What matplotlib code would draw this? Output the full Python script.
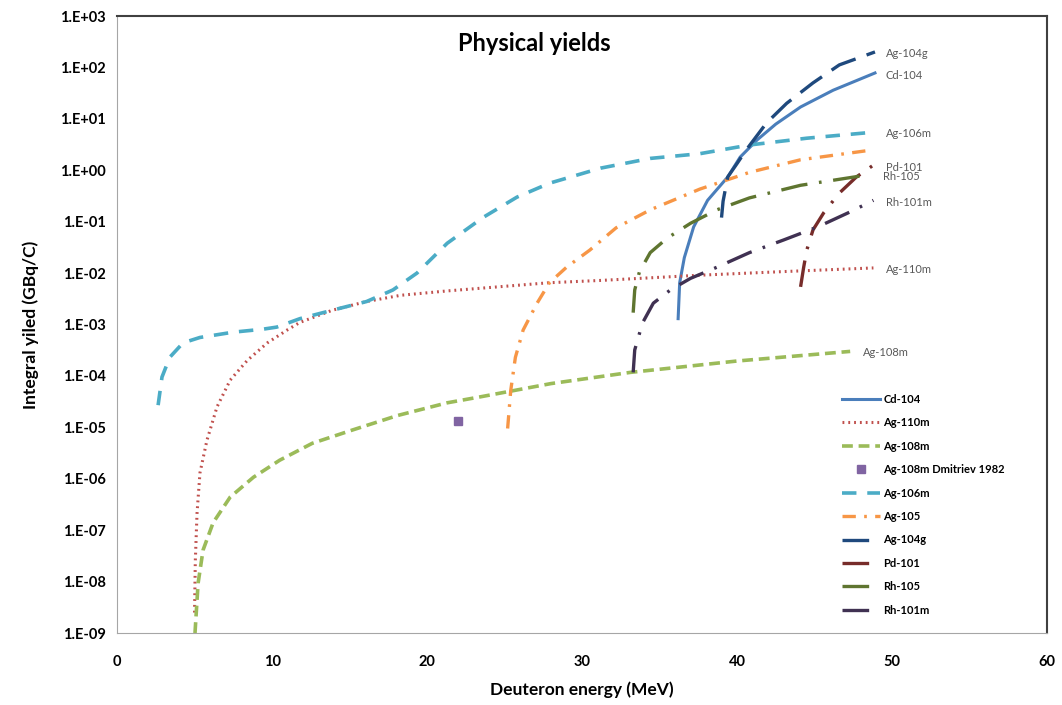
import numpy as np
import matplotlib
matplotlib.use("Agg")
import matplotlib.pyplot as plt

plt.rcParams['font.family'] = ['Lato', 'DejaVu Sans']

# Cd-104
e_cd104 = [36.2, 36.3, 36.6, 37.2, 38.1, 39.4, 40.2, 41.3, 42.5, 44.1, 46.2, 48.9]
y_cd104 = [1.3e-3, 6.5e-3, 2.0e-2, 7.9e-2, 0.26, 0.74, 1.8, 3.9, 7.9, 17, 36, 78]

# Ag-110m
e_ag110m = [5.0, 5.05, 5.16, 5.35, 5.8, 6.45, 7.3, 8.4, 9.7, 11.0, 11.8, 13.9, 16.1,
            18.3, 21.3, 27.9, 31.2, 37.6, 43.0, 48.8]
y_ag110m = [2.5e-9, 2.5e-8, 2.1e-7, 1.3e-6, 5.6e-6, 2.5e-5, 8.3e-5, 2.0e-4, 4.4e-4,
            7.9e-4, 1.1e-3, 1.9e-3, 2.8e-3, 3.7e-3, 4.5e-3, 6.5e-3, 7.2e-3, 9.1e-3,
            1.07e-2, 1.26e-2]

# Ag-108m
e_ag108m = [5.03, 5.23, 5.55, 6.2, 7.3, 8.8, 10.5, 12.6, 15.2, 18.1, 21.3, 23.4, 28.0,
            33.1, 40.0, 47.3]
y_ag108m = [1.0e-9, 9.3e-9, 4.1e-8, 1.4e-7, 4.4e-7, 1.07e-6, 2.3e-6, 4.9e-6, 8.9e-6,
            1.7e-5, 3.0e-5, 3.9e-5, 7.1e-5, 1.17e-4, 1.95e-4, 3.0e-4]

# Ag-108m Dmitriev 1982
e_dmitriev = [22.0]
y_dmitriev = [1.3e-5]

# Ag-106m
e_ag106m = [2.65, 2.9, 3.4, 4.26, 5.35, 7.5, 9.4, 10.3, 11.8, 13.9, 16.1, 17.8, 19.35,
            21.3, 23.6, 25.8, 27.9, 31.2, 34.4, 37.6, 40.8, 44.5, 48.8]
y_ag106m = [2.7e-5, 9.5e-5, 2.3e-4, 4.4e-4, 5.6e-4, 7.1e-4, 8.1e-4, 8.9e-4, 1.3e-3,
            1.9e-3, 2.8e-3, 4.7e-3, 1.0e-2, 3.8e-2, 0.12, 0.30, 0.56, 1.1, 1.7, 2.1,
            3.1, 4.2, 5.5]

# Ag-105
e_ag105 = [25.2, 25.4, 25.7, 26.2, 27.1, 27.9, 29.0, 30.5, 32.2, 34.4, 37.6, 40.8, 44.1, 48.8]
y_ag105 = [9.5e-6, 5.2e-5, 2.3e-4, 7.8e-4, 2.6e-3, 6.5e-3, 1.3e-2, 2.8e-2, 7.6e-2,
           0.17, 0.43, 0.91, 1.6, 2.5]

# Ag-104g
e_ag104g = [39.0, 39.1, 39.4, 40.0, 40.6, 41.9, 43.2, 44.9, 46.6, 48.9]
y_ag104g = [0.12, 0.25, 0.74, 1.35, 2.5, 8.3, 20, 50, 112, 200]

# Pd-101
e_pd101 = [44.1, 44.3, 44.5, 44.9, 45.6, 46.6, 47.7, 48.8]
y_pd101 = [5.4e-3, 1.3e-2, 2.8e-2, 6.9e-2, 0.15, 0.36, 0.74, 1.26]

# Rh-105
e_rh105 = [33.3, 33.4, 33.7, 34.4, 35.5, 37.0, 38.7, 40.8, 44.1, 48.4]
y_rh105 = [1.7e-3, 4.7e-3, 1.05e-2, 2.5e-2, 4.8e-2, 9.3e-2, 0.17, 0.29, 0.51, 0.81]

# Rh-101m
e_rh101m = [33.3, 33.4, 33.9, 34.6, 35.7, 37.0, 38.7, 40.8, 43.0, 45.2, 47.3, 48.8]
y_rh101m = [1.17e-4, 3.2e-4, 1.07e-3, 2.6e-3, 4.7e-3, 7.9e-3, 1.3e-2, 2.5e-2, 4.4e-2,
            7.9e-2, 0.155, 0.26]

# labels at the end of the curves
end_names = ['Ag-104g', 'Cd-104', 'Ag-106m', 'Pd-101', 'Rh-105', 'Rh-101m', 'Ag-110m', 'Ag-108m']
end_x = [49.6, 49.6, 49.6, 49.6, 49.4, 49.6, 49.6, 48.1]
end_y = [190, 71, 5.2, 1.15, 0.74, 0.24, 0.0115, 2.9e-4]

y_ticks = [10.0 ** k for k in range(-9, 4)]
y_tick_labels = ['1.E-09', '1.E-08', '1.E-07', '1.E-06', '1.E-05', '1.E-04', '1.E-03',
                 '1.E-02', '1.E-01', '1.E+00', '1.E+01', '1.E+02', '1.E+03']
x_ticks = [0, 10, 20, 30, 40, 50, 60]

fig = plt.figure(figsize=(10.62, 7.05), dpi=100)
ax = fig.add_axes([0.1102, 0.1021, 0.8757, 0.8752])

lw = 2.2
dashdot = (0, (8, 3.5, 0.8, 3.5))
ax.plot(e_cd104, y_cd104, color='#4A7EBB', lw=lw, label='Cd-104')
ax.plot(e_ag110m, y_ag110m, color='#C0504D', lw=lw, linestyle=(0, (0.6, 1.3)), label='Ag-110m')
ax.plot(e_ag108m, y_ag108m, color='#9BBB59', lw=2.6, linestyle=(0, (3, 1.6)), label='Ag-108m')
ax.plot(e_dmitriev, y_dmitriev, 's', color='#8064A2', ms=5.5, linestyle='none',
        label='Ag-108m Dmitriev 1982')
ax.plot(e_ag106m, y_ag106m, color='#4BACC6', lw=2.6, linestyle=(0, (4, 3)), label='Ag-106m')
ax.plot(e_ag105, y_ag105, color='#F79646', lw=2.4, linestyle=(0, (4, 2.5, 0.8, 2.5)), label='Ag-105')
ax.plot(e_ag104g, y_ag104g, color='#1F497D', lw=2.4, linestyle=(0, (8, 3.5)), label='Ag-104g')
ax.plot(e_pd101, y_pd101, color='#772C2A', lw=2.4, linestyle=dashdot, label='Pd-101')
ax.plot(e_rh105, y_rh105, color='#5F7530', lw=2.4, linestyle=dashdot, label='Rh-105')
ax.plot(e_rh101m, y_rh101m, color='#403152', lw=2.4, linestyle=dashdot, label='Rh-101m')

for name, xx, yy in zip(end_names, end_x, end_y):
    ax.text(xx, yy, name, fontsize=8, color='#595959', va='center', ha='left')

ax.set_yscale('log')
ax.set_xlim(0, 60)
ax.set_ylim(1e-9, 1e3)
ax.set_yticks(y_ticks)
ax.set_yticklabels(y_tick_labels)
ax.minorticks_off()
ax.set_xticks(x_ticks)
ax.tick_params(length=0, labelsize=10.5)
ax.tick_params(axis='x', pad=16)
ax.tick_params(axis='y', pad=8)
for lab in ax.get_xticklabels() + ax.get_yticklabels():
    lab.set_fontweight('bold')

ax.spines['left'].set_color('#A6A6A6')
ax.spines['bottom'].set_color('#A6A6A6')
ax.spines['top'].set_color('#404040')
ax.spines['right'].set_color('#404040')
ax.spines['top'].set_linewidth(1.5)
ax.spines['right'].set_linewidth(1.5)

ax.set_xlabel('Deuteron energy (MeV)', fontsize=12.5, fontweight='bold', labelpad=9)
ax.set_ylabel('Integral yiled (GBq/C)', fontsize=12.5, fontweight='bold', labelpad=15)
ax.text(0.449, 0.955, 'Physical yields', transform=ax.transAxes, fontsize=17,
        fontweight='bold', ha='center', va='center')

leg = ax.legend(loc='upper left', bbox_to_anchor=(0.775, 0.395), frameon=False,
                prop={'size': 8, 'weight': 'bold'}, handlelength=3.4,
                handletextpad=0.3, labelspacing=1.12, borderaxespad=0)

fig.savefig('out.png', dpi=100)
